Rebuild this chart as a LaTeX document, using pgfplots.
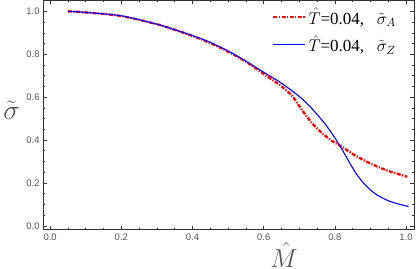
\RequirePackage{fix-cm}
\documentclass[border=0pt]{standalone}
\usepackage{pgfplots}
\pgfplotsset{compat=1.18}
\usepackage{fontspec}
\setmainfont{Liberation Serif}
\newfontfamily\ticksans{Liberation Sans}
\definecolor{tickgray}{HTML}{555555}
\definecolor{framegray}{HTML}{333333}
\definecolor{myblue}{HTML}{0000FF}
\definecolor{myred}{HTML}{FF0000}
\begin{document}
\begin{tikzpicture}[x=1bp,y=1bp]
\begin{axis}[
  scale only axis,
  width=370bp, height=229bp,
  xmin=-0.0197, xmax=1.022,
  ymin=-0.019, ymax=1.051,
  axis line style={framegray, line width=0.8pt},
  xtick={0,0.2,0.4,0.6,0.8,1.0},
  ytick={0,0.2,0.4,0.6,0.8,1.0},
  minor tick num=3,
  tick align=inside,
  major tick length=4bp,
  minor tick length=2bp,
  tick style={framegray, line width=0.5pt},
  /pgf/number format/assume math mode=true,
  xticklabel={\pgfmathprintnumber[fixed,fixed zerofill,precision=1]{\tick}},
  yticklabel={\pgfmathprintnumber[fixed,fixed zerofill,precision=1]{\tick}},
  ticklabel style={font=\ticksans\fontsize{9.5}{11}\selectfont, text=tickgray},
  xlabel={$\hat{M}$},
  ylabel={$\tilde{\sigma}$},
  xlabel style={font=\fontsize{26}{28}\selectfont, text=tickgray, at={(axis description cs:0.65,-0.05)}, anchor=north, inner sep=1bp},
  ylabel style={font=\fontsize{28}{30}\selectfont, text=tickgray, rotate=-90, at={(axis description cs:-0.085,0.52)}, anchor=center},
  legend style={draw=none, fill=none, at={(0.965,0.985)}, anchor=north east,
    font=\fontsize{17}{19}\selectfont, row sep=6bp},
  legend cell align=left,
  legend image code/.code={\draw[#1] (0bp,0bp) -- (32bp,0bp);},
]
\addplot[myred, line width=2.3bp, dash pattern=on 4bp off 1.5bp on 1.2bp off 1.5bp, smooth] coordinates {
(0.05,1.0) (0.1,0.995) (0.2,0.978) (0.3,0.94) (0.35,0.914) (0.4,0.885) (0.45,0.852)
(0.5,0.812) (0.55,0.765) (0.6,0.708) (0.65,0.65) (0.68,0.605) (0.7,0.558) (0.73,0.49)
(0.76,0.438) (0.79,0.398) (0.82,0.368) (0.85,0.335) (0.9,0.29) (0.95,0.256) (1.003,0.229)
};
\addlegendentry{$\hat{T}$=0.04,\ \ \ $\tilde{\sigma}_A$}
\addplot[myblue, line width=1.1bp, smooth] coordinates {
(0.05,1.0) (0.1,0.995) (0.2,0.979) (0.3,0.94) (0.35,0.914) (0.4,0.887) (0.45,0.855)
(0.5,0.815) (0.55,0.768) (0.6,0.716) (0.65,0.665) (0.7,0.603) (0.73,0.556) (0.76,0.50)
(0.78,0.458) (0.8,0.41) (0.82,0.356) (0.84,0.298) (0.86,0.243) (0.88,0.2) (0.9,0.167)
(0.92,0.142) (0.95,0.117) (0.98,0.101) (1.007,0.09)
};
\addlegendentry{$\hat{T}$=0.04,\ \ \ $\tilde{\sigma}_Z$}
\end{axis}
\end{tikzpicture}
\end{document}
